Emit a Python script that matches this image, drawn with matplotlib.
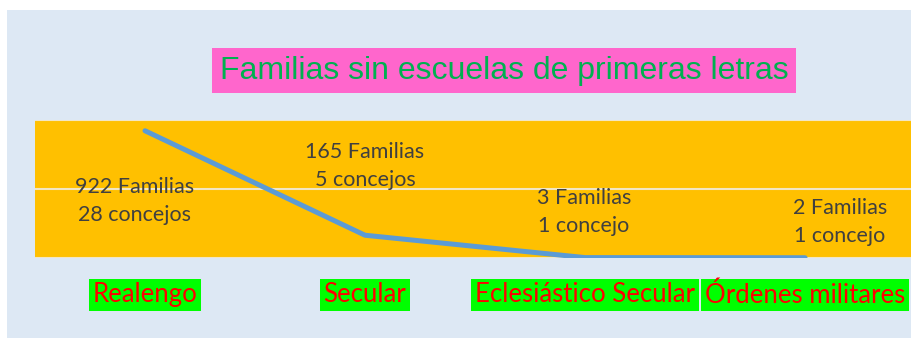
import matplotlib.pyplot as plt
from matplotlib.patches import Rectangle

categorias = ["Realengo", "Secular", "Eclesiástico Secular", "Órdenes militares"]
familias = [922, 165, 3, 2]
concejos = ["28 concejos", "5 concejos", "1 concejo", "1 concejo"]
titulo = "Familias sin escuelas de primeras letras"

# desplazamiento de cada etiqueta respecto a su punto (pixeles)
desplaz = [(-10, -70), (0, 69), (-1, 46), (35, 36)]


def main():
    fig = plt.figure(figsize=(9.12, 3.38), dpi=100, facecolor="white")

    # panel azul claro de fondo
    fig.patches.append(Rectangle((7 / 912, 0), 1, 328 / 338, transform=fig.transFigure,
                                 facecolor="#dde8f4", edgecolor="none", zorder=-10))

    ax = fig.add_axes([35 / 912, 80 / 338, 880 / 912, 138 / 338])
    ax.set_facecolor("#ffc000")
    x = list(range(len(categorias)))
    ax.plot(x, familias, color="#5b9bd5", lw=3.6, solid_capstyle="round", zorder=3)
    ax.set_xlim(-0.5, 3.5)
    ax.set_ylim(0, 1000)
    ax.set_yticks([0, 500, 1000])
    ax.grid(axis="y", color="#f2e6c4", lw=1.5)
    ax.set_axisbelow(True)
    for s in ax.spines.values():
        s.set_visible(False)
    ax.tick_params(length=0, labelleft=False, labelbottom=False)

    for i, (f, c) in enumerate(zip(familias, concejos)):
        dx, dy = desplaz[i]
        ax.annotate(f"{f} Familias\n{c}", (i, f), xytext=(dx, dy), textcoords="offset pixels",
                    ha="center", va="center", fontsize=15.5, family="Lato",
                    color="#404040", linespacing=1.5)

    for i, cat in enumerate(categorias):
        ax.text(i, -0.268, cat, transform=ax.get_xaxis_transform(), ha="center", va="center",
                fontsize=18.5, family="Lato", color="#ff0000",
                bbox=dict(boxstyle="square,pad=0.14", facecolor="#00ff00", edgecolor="none"))

    fig.text(504 / 912, 1 - 70.5 / 338, titulo, ha="center", va="center", fontsize=23,
             family="Liberation Sans", color="#00b050",
             bbox=dict(boxstyle="square,pad=0.25", facecolor="#ff66cc", edgecolor="none"))

    fig.savefig("out.png", dpi=100, facecolor="white")


if __name__ == "__main__":
    main()
